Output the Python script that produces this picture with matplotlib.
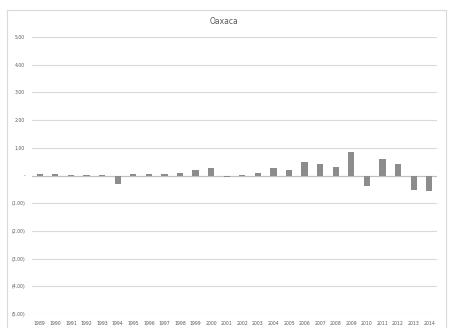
import matplotlib
matplotlib.use('Agg')
import matplotlib.pyplot as plt
from matplotlib.patches import Rectangle
import numpy as np

years = [str(y) for y in range(1989, 2015)]
values = [0.05, 0.05, 0.01, 0.01, 0.01, -0.31, 0.04, 0.04, 0.04, 0.08, 0.19, 0.26, -0.05,
          0.01, 0.08, 0.27, 0.21, 0.49, 0.42, 0.30, 0.85, -0.39, 0.60, 0.43, -0.54, -0.56]
yticks = [5, 4, 3, 2, 1, 0, -1, -2, -3, -4, -5]
ytick_labels = ['5.00', '4.00', '3.00', '2.00', '1.00', '-', '(1.00)', '(2.00)', '(3.00)', '(4.00)', '(5.00)']

fig = plt.figure(figsize=(4.49, 3.28), dpi=100)
fig.patches.append(Rectangle((7 / 449, -0.05), 439 / 449, 1.05 - 10 / 328,
                             transform=fig.transFigure, fill=False,
                             edgecolor='#d9d9d9', linewidth=0.8))
ax = fig.add_axes([32 / 449, 1 - 314 / 328, 405 / 449, 277 / 328])

x = np.arange(len(years))
ax.bar(x, values, width=0.4, color='#8c8c8c', zorder=3)

ax.set_ylim(-5, 5)
ax.set_xlim(-0.5, len(years) - 0.5)
ax.set_yticks(yticks)
ax.set_yticklabels(ytick_labels)
ax.set_xticks(x)
ax.set_xticklabels(years)
ax.tick_params(axis='both', length=0, labelsize=3.3, colors='#595959')
ax.tick_params(axis='y', pad=5)
ax.tick_params(axis='x', pad=5)
ax.grid(axis='y', color='#d9d9d9', linewidth=0.8, zorder=0)
ax.axhline(0, color='#bfbfbf', linewidth=0.8, zorder=2)
for s in ax.spines.values():
    s.set_visible(False)

fig.text(0.5, 1 - 21 / 328, 'Oaxaca', ha='center', va='center', fontsize=5.5, color='#595959')

fig.savefig('out.png', dpi=100)
